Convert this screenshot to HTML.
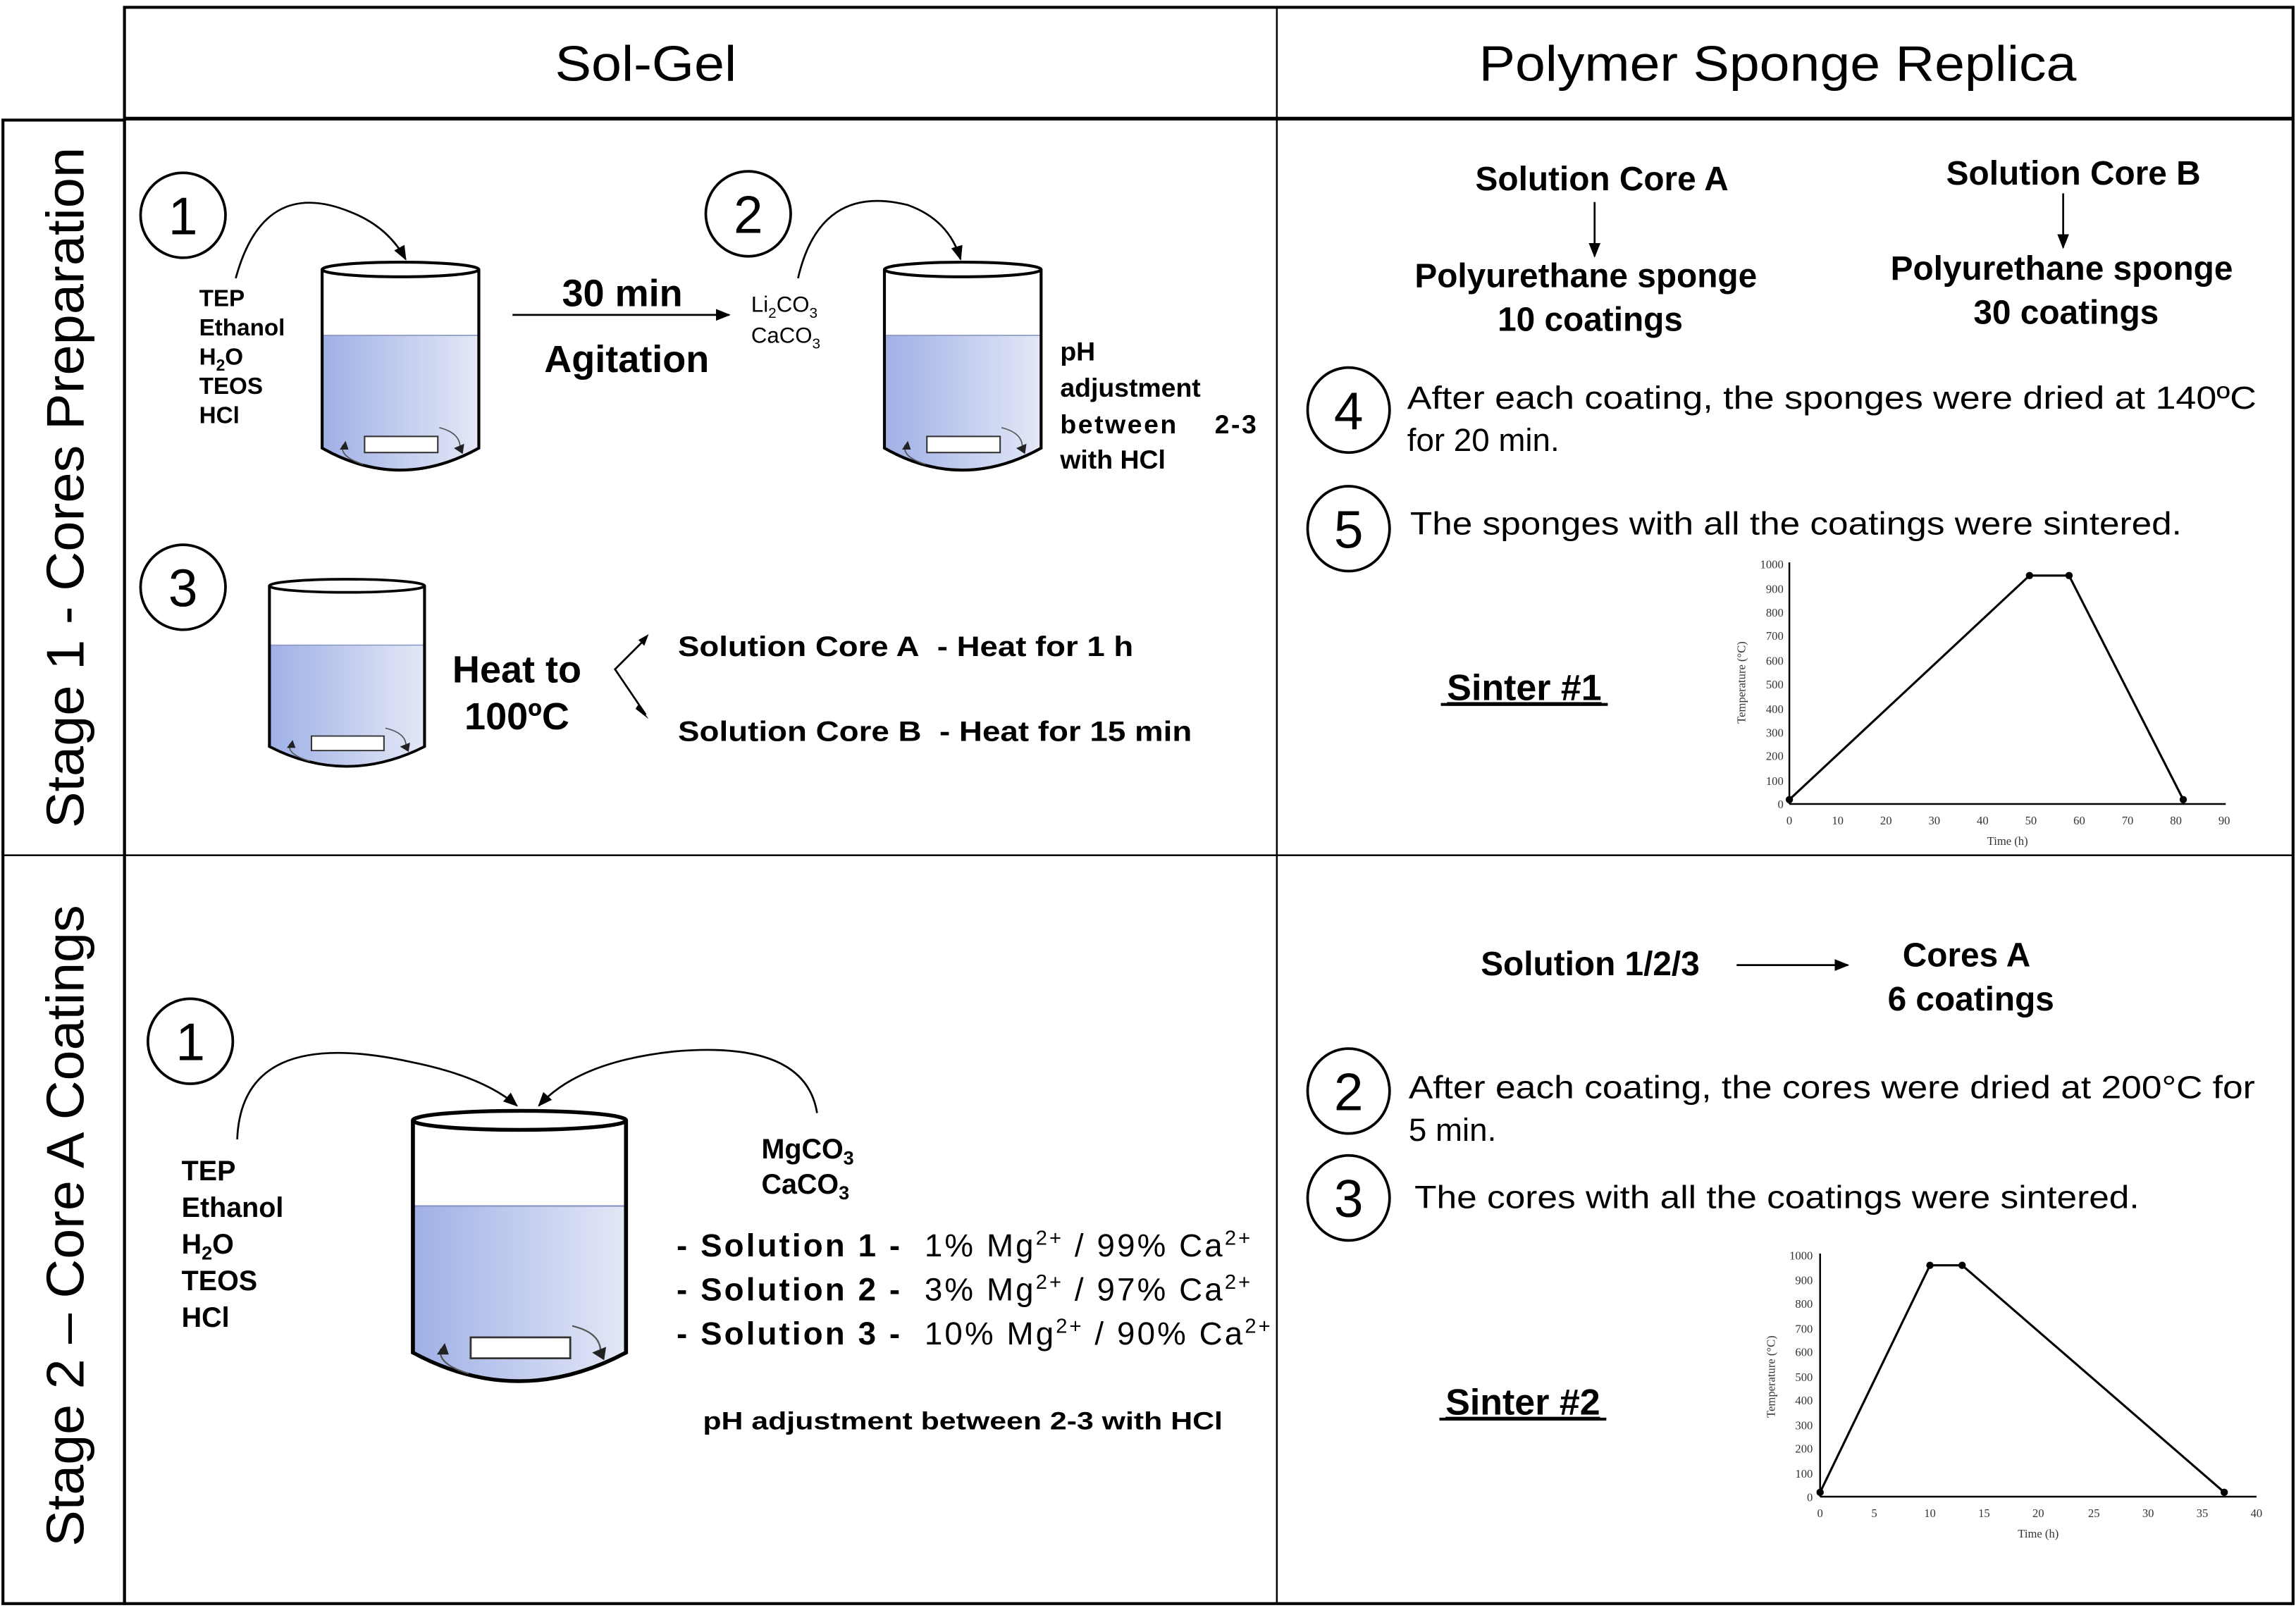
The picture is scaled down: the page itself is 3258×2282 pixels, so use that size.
<!DOCTYPE html>
<html><head><meta charset="utf-8"><style>html,body{margin:0;padding:0;background:#fff}svg{display:block}</style></head>
<body>
<svg width="3258" height="2282" viewBox="0 0 1568 1098" preserveAspectRatio="none" xmlns="http://www.w3.org/2000/svg" font-family="Liberation Sans, sans-serif">
<defs>
<linearGradient id="liq" x1="0" x2="1" y1="0" y2="0"><stop offset="0" stop-color="#9fb0e6"/><stop offset="1" stop-color="#e4e8f6"/></linearGradient>
<marker id="ah" markerWidth="10" markerHeight="10" refX="9" refY="5" orient="auto" markerUnits="userSpaceOnUse"><path d="M0,1 L10,5 L0,9 z" fill="#000"/></marker>
<g id="beaker">
<path d="M0,0 L0,122 Q53,152 107,122 L107,0" fill="#fff" stroke="none"/>
<path d="M0,45 L107,45 L107,122 Q53,152 0,122 Z" fill="url(#liq)"/>
<line x1="0" y1="45" x2="107" y2="45" stroke="#8a96c0" stroke-width="0.8"/>
<path d="M0,0 L0,122 Q53,152 107,122 L107,0" fill="none" stroke="#000" stroke-width="2"/>
<ellipse cx="53.5" cy="0" rx="53.5" ry="5" fill="#fff" stroke="#000" stroke-width="2"/>
<rect x="29" y="114" width="50" height="11" fill="#fff" stroke="#333" stroke-width="1"/>
<path d="M28,133 Q12,128 14,120" fill="none" stroke="#555" stroke-width="0.8"/>
<path d="M12,123 L16,117 L18,123 z" fill="#222"/>
<path d="M80,108 Q96,112 94,124" fill="none" stroke="#555" stroke-width="0.8"/>
<path d="M90,122 L96,126 L97,119 z" fill="#222"/>
</g>
</defs>
<rect width="1568" height="1098" fill="#fff"/>
<g stroke="#000" fill="none">
<rect x="85" y="5" width="1481" height="1090" stroke-width="2"/>
<rect x="2" y="82" width="83" height="1013" stroke-width="2"/>
<line x1="85" y1="81" x2="1566" y2="81" stroke-width="2.5"/>
<line x1="872" y1="5" x2="872" y2="1095" stroke-width="1.2"/>
<line x1="2" y1="584" x2="1566" y2="584" stroke-width="1.2"/>
</g>
<g font-size="34" text-anchor="middle" fill="#000">
<text x="441" y="55" textLength="124" lengthAdjust="spacingAndGlyphs">Sol-Gel</text>
<text x="1214" y="55" textLength="408" lengthAdjust="spacingAndGlyphs">Polymer Sponge Replica</text>
</g>
<text transform="translate(57,333) rotate(-90)" font-size="36" text-anchor="middle" textLength="465" lengthAdjust="spacingAndGlyphs">Stage 1 - Cores Preparation</text>
<text transform="translate(57,837) rotate(-90)" font-size="36" text-anchor="middle" textLength="438" lengthAdjust="spacingAndGlyphs">Stage 2 – Core A Coatings</text>
<g fill="none" stroke="#000" stroke-width="1.8">
<ellipse cx="125" cy="147" rx="29" ry="29"/><ellipse cx="511" cy="146" rx="29" ry="29"/>
<ellipse cx="125" cy="401" rx="29" ry="29"/><ellipse cx="130" cy="711" rx="29" ry="29"/>
<ellipse cx="921" cy="280" rx="28" ry="29"/><ellipse cx="921" cy="361" rx="28" ry="29"/>
<ellipse cx="921" cy="745" rx="28" ry="29"/><ellipse cx="921" cy="818" rx="28" ry="29"/>
</g>
<g font-size="36" text-anchor="middle">
<text x="125" y="160">1</text><text x="511" y="159">2</text><text x="125" y="414">3</text><text x="130" y="724">1</text>
<text x="921" y="293">4</text><text x="921" y="374">5</text><text x="921" y="758">2</text><text x="921" y="831">3</text>
</g>
<use href="#beaker" transform="translate(220,184)"/>
<use href="#beaker" transform="translate(604,184)"/>
<use href="#beaker" transform="translate(184,400) scale(0.99,0.9)"/>
<use href="#beaker" transform="translate(282,765) scale(1.36,1.3)"/>
<g fill="none" stroke="#000" stroke-width="1.3" marker-end="url(#ah)">
<path d="M161,190 Q180,120 240,145 Q265,155 277,177"/>
<path d="M545,190 Q560,125 620,140 Q648,150 656,177"/>
<path d="M162,778 Q165,700 280,725 Q330,735 353,755"/>
<path d="M558,760 Q550,710 460,718 Q395,725 368,755"/>
<line x1="350" y1="215" x2="498" y2="215"/>
<path d="M1186,659 L1262,659"/>
<path d="M1089,138 L1089,175"/>
<path d="M1409,132 L1409,169"/>
</g>
<path d="M441,436 L420,457 L441,488" fill="none" stroke="#000" stroke-width="1.3"/>
<path d="M436,437 L443,433 L440,441 z M434,484 L443,491 L436,481 z" fill="#000"/>
<g font-weight="bold" font-size="16">
<text x="136" y="209">TEP</text><text x="136" y="229">Ethanol</text>
<text x="136" y="249">H<tspan font-size="11" dy="4">2</tspan><tspan dy="-4">O</tspan></text>
<text x="136" y="269">TEOS</text><text x="136" y="289">HCl</text>
<text x="513" y="213" font-size="15" font-weight="normal">Li<tspan font-size="10" dy="4">2</tspan><tspan dy="-4">CO</tspan><tspan font-size="10" dy="4">3</tspan></text>
<text x="513" y="234" font-size="15" font-weight="normal">CaCO<tspan font-size="10" dy="4">3</tspan></text>
<text x="724" y="246" font-size="18">pH</text>
<text x="724" y="271" font-size="18">adjustment</text>
<text x="724" y="296" font-size="18" textLength="134" lengthAdjust="spacing">between&#160;&#160;&#160;&#160;2-3</text>
<text x="724" y="320" font-size="18">with HCl</text>
</g>
<text x="425" y="209" font-size="26" font-weight="bold" text-anchor="middle">30 min</text>
<text x="428" y="254" font-size="26" font-weight="bold" text-anchor="middle">Agitation</text>
<text x="353" y="466" font-size="26" font-weight="bold" text-anchor="middle">Heat to</text>
<text x="353" y="498" font-size="26" font-weight="bold" text-anchor="middle">100ºC</text>
<text x="463" y="448" font-size="19" font-weight="bold" textLength="311" lengthAdjust="spacingAndGlyphs">Solution Core A&#160;&#160;- Heat for 1 h</text>
<text x="463" y="506" font-size="19" font-weight="bold" textLength="351" lengthAdjust="spacingAndGlyphs">Solution Core B&#160;&#160;- Heat for 15 min</text>
<g font-weight="bold" font-size="19">
<text x="124" y="806">TEP</text><text x="124" y="831">Ethanol</text>
<text x="124" y="856">H<tspan font-size="13" dy="4">2</tspan><tspan dy="-4">O</tspan></text>
<text x="124" y="881">TEOS</text><text x="124" y="906">HCl</text>
<text x="520" y="791">MgCO<tspan font-size="13" dy="4">3</tspan></text>
<text x="520" y="815">CaCO<tspan font-size="13" dy="4">3</tspan></text>
<text x="480" y="976" font-size="17" textLength="355" lengthAdjust="spacingAndGlyphs">pH adjustment between 2-3 with HCl</text>
</g>
<g font-size="22" letter-spacing="1.5">
<text x="462" y="858"><tspan font-weight="bold">- Solution 1 -</tspan>&#160;&#160;1% Mg<tspan font-size="14" dy="-8">2+</tspan><tspan dy="8"> / 99% Ca</tspan><tspan font-size="14" dy="-8">2+</tspan></text>
<text x="462" y="888"><tspan font-weight="bold">- Solution 2 -</tspan>&#160;&#160;3% Mg<tspan font-size="14" dy="-8">2+</tspan><tspan dy="8"> / 97% Ca</tspan><tspan font-size="14" dy="-8">2+</tspan></text>
<text x="462" y="918"><tspan font-weight="bold">- Solution 3 -</tspan>&#160;&#160;10% Mg<tspan font-size="14" dy="-8">2+</tspan><tspan dy="8"> / 90% Ca</tspan><tspan font-size="14" dy="-8">2+</tspan></text>
</g>
<g font-weight="bold" font-size="23" text-anchor="middle">
<text x="1094" y="130">Solution Core A</text>
<text x="1083" y="196">Polyurethane sponge</text>
<text x="1086" y="226">10 coatings</text>
<text x="1416" y="126">Solution Core B</text>
<text x="1408" y="191">Polyurethane sponge</text>
<text x="1411" y="221">30 coatings</text>
<text x="1086" y="666">Solution 1/2/3</text>
<text x="1343" y="660">Cores A</text>
<text x="1346" y="690">6 coatings</text>
</g>
<g font-size="22">
<text x="961" y="279" textLength="580" lengthAdjust="spacingAndGlyphs">After each coating, the sponges were dried at 140ºC</text>
<text x="961" y="308">for 20 min.</text>
<text x="963" y="365" textLength="527" lengthAdjust="spacingAndGlyphs">The sponges with all the coatings were sintered.</text>
<text x="962" y="750" textLength="578" lengthAdjust="spacingAndGlyphs">After each coating, the cores were dried at 200°C for</text>
<text x="962" y="779">5 min.</text>
<text x="966" y="825" textLength="495" lengthAdjust="spacingAndGlyphs">The cores with all the coatings were sintered.</text>
</g>
<g font-weight="bold" font-size="25" text-anchor="middle" text-decoration="underline">
<text x="1041" y="478">Sinter #1</text>
<text x="1040" y="966">Sinter #2</text>
</g>
<line x1="984" y1="481" x2="1098" y2="481" stroke="#000" stroke-width="2"/>
<line x1="983" y1="969" x2="1097" y2="969" stroke="#000" stroke-width="2"/>
<g font-family="Liberation Serif, serif" font-size="8" fill="#333">
<g stroke="#000" stroke-width="1.2" fill="none">
<line x1="1222" y1="384" x2="1222" y2="549"/><line x1="1222" y1="549" x2="1520" y2="549"/>
<polyline points="1222,546 1386,393 1413,393 1491,546" stroke-width="1.5"/>
</g>
<circle cx="1222" cy="546" r="2.5" fill="#000"/><circle cx="1386" cy="393" r="2.5" fill="#000"/><circle cx="1413" cy="393" r="2.5" fill="#000"/><circle cx="1491" cy="546" r="2.5" fill="#000"/>
<g text-anchor="end">
<text x="1218" y="552">0</text><text x="1218" y="536">100</text><text x="1218" y="519">200</text><text x="1218" y="503">300</text><text x="1218" y="487">400</text><text x="1218" y="470">500</text><text x="1218" y="454">600</text><text x="1218" y="437">700</text><text x="1218" y="421">800</text><text x="1218" y="405">900</text><text x="1218" y="388">1000</text>
</g>
<g text-anchor="middle">
<text x="1222" y="563">0</text><text x="1255" y="563">10</text><text x="1288" y="563">20</text><text x="1321" y="563">30</text><text x="1354" y="563">40</text><text x="1387" y="563">50</text><text x="1420" y="563">60</text><text x="1453" y="563">70</text><text x="1486" y="563">80</text><text x="1519" y="563">90</text>
<text x="1371" y="577">Time (h)</text>
<text transform="translate(1192,466) rotate(-90)">Temperature (°C)</text>
</g>
</g>
<g font-family="Liberation Serif, serif" font-size="8" fill="#333">
<g stroke="#000" stroke-width="1.2" fill="none">
<line x1="1243" y1="856" x2="1243" y2="1022"/><line x1="1243" y1="1022" x2="1541" y2="1022"/>
<polyline points="1243,1019 1318,864 1340,864 1519,1019" stroke-width="1.5"/>
</g>
<circle cx="1243" cy="1019" r="2.5" fill="#000"/><circle cx="1318" cy="864" r="2.5" fill="#000"/><circle cx="1340" cy="864" r="2.5" fill="#000"/><circle cx="1519" cy="1019" r="2.5" fill="#000"/>
<g text-anchor="end">
<text x="1238" y="1025">0</text><text x="1238" y="1009">100</text><text x="1238" y="992">200</text><text x="1238" y="976">300</text><text x="1238" y="959">400</text><text x="1238" y="943">500</text><text x="1238" y="926">600</text><text x="1238" y="910">700</text><text x="1238" y="893">800</text><text x="1238" y="877">900</text><text x="1238" y="860">1000</text>
</g>
<g text-anchor="middle">
<text x="1243" y="1036">0</text><text x="1280" y="1036">5</text><text x="1318" y="1036">10</text><text x="1355" y="1036">15</text><text x="1392" y="1036">20</text><text x="1430" y="1036">25</text><text x="1467" y="1036">30</text><text x="1504" y="1036">35</text><text x="1541" y="1036">40</text>
<text x="1392" y="1050">Time (h)</text>
<text transform="translate(1212,940) rotate(-90)">Temperature (°C)</text>
</g>
</g>
</svg>
</body></html>
